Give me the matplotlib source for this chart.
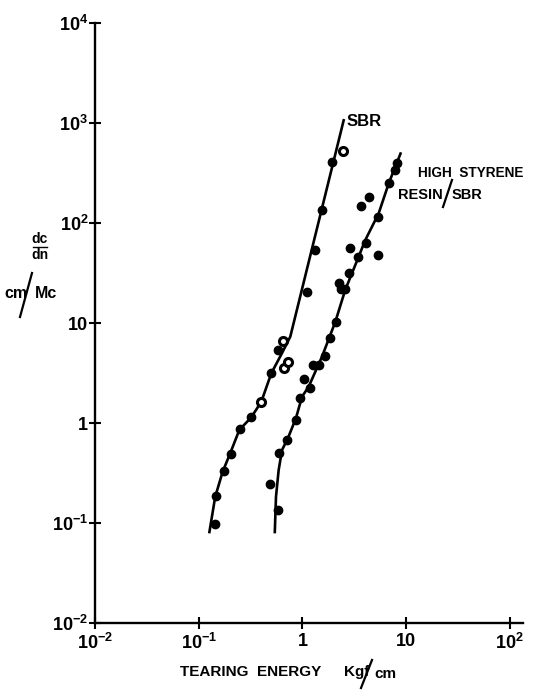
import matplotlib
matplotlib.use("Agg")
import matplotlib.pyplot as plt
from matplotlib.lines import Line2D
from matplotlib.ticker import FixedLocator, FixedFormatter, NullLocator

# ---------------- data ----------------
# SBR: solid points
sbr_x = [0.144, 0.147, 0.174, 0.205, 0.248, 0.321, 0.498, 0.581, 1.107, 1.32, 1.55, 1.93]
sbr_y = [0.097, 0.187, 0.333, 0.49, 0.865, 1.14, 3.14, 5.37, 20.4, 53.7, 135, 407]
# SBR: open points
sbr_open_x = [0.401, 0.66, 0.726, 0.654, 2.47]
sbr_open_y = [1.61, 3.57, 4.05, 6.65, 525]
# SBR fitted curve
sbr_line_x = [0.126, 0.144, 0.170, 0.201, 0.246, 0.321, 0.401, 0.501, 0.636, 0.764, 2.52]
sbr_line_y = [0.0788, 0.183, 0.326, 0.498, 0.851, 1.14, 1.63, 3.14, 5.01, 7.30, 1096]

# High styrene resin / SBR points
hs_x = [0.581, 0.487, 0.598, 0.71, 0.867, 0.955, 1.175, 1.04, 1.257, 1.456, 1.664,
        1.83, 2.11, 2.27, 2.36, 2.6, 2.8, 3.44, 5.37, 2.9, 4.14, 5.33, 3.7, 4.36,
        6.81, 7.77, 8.19]
hs_y = [0.135, 0.244, 0.505, 0.676, 1.07, 1.77, 2.22, 2.74, 3.8, 3.8, 4.68,
        7.03, 10.3, 24.9, 21.7, 21.7, 31.8, 45.4, 47.9, 55.8, 62.7, 116, 148, 183,
        253, 339, 395]
# High styrene resin / SBR fitted curve
hs_line_x = [0.541, 0.556, 0.590, 0.636, 0.726, 0.867, 0.991, 1.15, 1.545, 2.08,
             2.59, 3.49, 4.05, 5.45, 6.81, 8.95]
hs_line_y = [0.0788, 0.183, 0.339, 0.537, 0.708, 1.12, 1.83, 2.31, 4.6, 10.3,
             21.4, 46, 67.6, 125, 249, 509]

x_ticks = [1e-2, 1e-1, 1, 10, 100]
x_tick_labels = ["10$^{-2}$", "10$^{-1}$", "1", "10", "10$^{2}$"]
y_ticks = [1e-2, 1e-1, 1, 10, 100, 1e3, 1e4]
y_tick_labels = ["10$^{-2}$", "10$^{-1}$", "1", "10", "10$^{2}$", "10$^{3}$", "10$^{4}$"]

# ---------------- style ----------------
FAM = ["Liberation Sans", "DejaVu Sans"]
plt.rcParams["font.family"] = FAM
plt.rcParams["font.weight"] = "bold"
plt.rcParams["mathtext.fontset"] = "custom"
plt.rcParams["mathtext.rm"] = "Liberation Sans:bold"
plt.rcParams["mathtext.it"] = "Liberation Sans:bold"
plt.rcParams["mathtext.bf"] = "Liberation Sans:bold"
plt.rcParams["mathtext.default"] = "rm"

W, H = 548, 691
fig = plt.figure(figsize=(W / 100, H / 100), dpi=100)

x0, x1 = 95.2, 523.0
y0, y1 = 623.0, 23.0
ax = fig.add_axes([x0 / W, 1 - y0 / H, (x1 - x0) / W, (y0 - y1) / H])
ax.set_xscale("log")
ax.set_yscale("log")
ax.set_xlim(1e-2, 10 ** (-2 + (x1 - x0) / 103.6))
ax.set_ylim(1e-2, 1e4)

for s in ("top", "right"):
    ax.spines[s].set_visible(False)
for s in ("left", "bottom"):
    ax.spines[s].set_linewidth(1.7)

ax.xaxis.set_major_locator(FixedLocator(x_ticks))
ax.xaxis.set_major_formatter(FixedFormatter(x_tick_labels))
ax.yaxis.set_major_locator(FixedLocator(y_ticks))
ax.yaxis.set_major_formatter(FixedFormatter(y_tick_labels))
ax.xaxis.set_minor_locator(NullLocator())
ax.yaxis.set_minor_locator(NullLocator())
ax.tick_params(axis="x", direction="inout", length=8, width=1.5, pad=3, labelsize=13)
ax.tick_params(axis="y", direction="inout", length=8, width=1.5, pad=1, labelsize=13)

# curves
ax.plot(sbr_line_x, sbr_line_y, color="black", lw=1.9, solid_capstyle="butt")
ax.plot(hs_line_x, hs_line_y, color="black", lw=1.9, solid_capstyle="butt")

# points
ax.plot(sbr_x, sbr_y, "o", color="black", ms=6.0, ls="none")
ax.plot(hs_x, hs_y, "o", color="black", ms=6.0, ls="none")
ax.plot(sbr_open_x, sbr_open_y, "o", mfc="white", mec="black", mew=2.2, ms=5.8, ls="none")

# ---------------- labels ----------------
def ftext(px, py, s, **kw):
    kw.setdefault("fontsize", 11)
    kw.setdefault("fontweight", "bold")
    fig.text(px / W, 1 - py / H, s, **kw)

def fline(p0, p1, lw=1.6):
    fig.add_artist(Line2D([p0[0] / W, p1[0] / W], [1 - p0[1] / H, 1 - p1[1] / H],
                          transform=fig.transFigure, color="black", lw=lw))

# curve labels
ftext(347, 121, "SBR", ha="left", va="center", fontsize=12)
ftext(418, 173, "HIGH  STYRENE", ha="left", va="center", fontsize=9.8)
ftext(398, 195, "RESIN", ha="left", va="center", fontsize=10.5)
ftext(452, 195, "SBR", ha="left", va="center", fontsize=10.5)
fline((443, 207), (452, 180))

# y-axis label
ftext(40, 239, "dc", ha="center", va="center", fontsize=10)
ftext(40, 255, "dn", ha="center", va="center", fontsize=10)
fline((33, 247), (47, 247), lw=1.0)
ftext(16, 293, "cm", ha="center", va="center", fontsize=11.5)
ftext(46, 293, "Mc", ha="center", va="center", fontsize=11.5)
fline((20, 317), (32, 273))

# x-axis label
ftext(180, 672, "TEARING  ENERGY", ha="left", va="center", fontsize=11)
ftext(344, 672, "Kgf", ha="left", va="center", fontsize=11)
fline((361, 688), (372, 660))
ftext(374, 674, "cm", ha="left", va="center", fontsize=11)

fig.savefig("out.png", dpi=100, facecolor="white")
